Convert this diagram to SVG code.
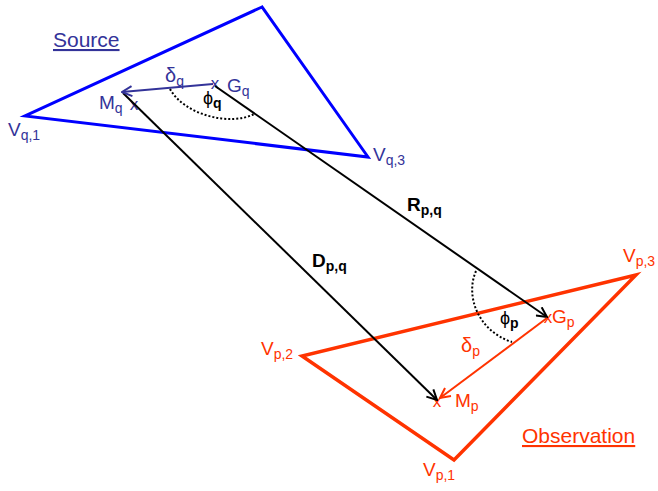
<svg xmlns="http://www.w3.org/2000/svg" width="658" height="491" viewBox="0 0 658 491">
<defs>
<style>
text{font-family:"Liberation Sans",Arial,sans-serif;}
.lb{font-size:19px;}
.sm{font-size:18px;}
.dl{font-size:20px;}
.sub{font-size:14px;}
.blue{fill:#333399;}
.red{fill:#ff3300;}
.blk{fill:#000;}
.tri{fill:none;stroke-linejoin:miter;}
.dot{fill:none;stroke:#000;stroke-width:2;stroke-dasharray:2 2;}
.xm{font-size:17px;text-anchor:middle;}
</style>
<marker id="ab" viewBox="0 0 12 12" refX="11" refY="6" markerWidth="12" markerHeight="12" markerUnits="userSpaceOnUse" orient="auto"><path d="M1,1 L11,6 L1,11" fill="none" stroke="#000" stroke-width="2"/></marker>
<marker id="au" viewBox="0 0 12 12" refX="11" refY="6" markerWidth="12" markerHeight="12" markerUnits="userSpaceOnUse" orient="auto"><path d="M1,1 L11,6 L1,11" fill="none" stroke="#333399" stroke-width="2"/></marker>
<marker id="ar" viewBox="0 0 12 12" refX="11" refY="6" markerWidth="12" markerHeight="12" markerUnits="userSpaceOnUse" orient="auto"><path d="M1,1 L11,6 L1,11" fill="none" stroke="#ff3300" stroke-width="2"/></marker>
</defs>
<rect width="658" height="491" fill="#fff"/>
<g id="source">
<polygon class="tri" points="262,7 25,116 368,157" stroke="#0000ff" stroke-width="3"/>
<text class="blue" x="53" y="47" font-size="21" text-decoration="underline">Source</text>
<text class="blue lb" x="8" y="136">V<tspan class="sub" dy="4">q,1</tspan></text>
<text class="blue lb" x="373" y="161">V<tspan class="sub" dy="4">q,3</tspan></text>
<text class="blue lb" x="227" y="92">G<tspan class="sub" dy="4">q</tspan></text>
<text class="blue lb" x="99" y="109">M<tspan class="sub" dy="4">q</tspan></text>
<text class="blue xm" x="215" y="89">x</text>
<text class="blue xm" x="134" y="110">x</text>
<text class="blue dl" x="165" y="82">δ<tspan class="sub" dy="4">q</tspan></text>
</g>
<g id="observation">
<polygon class="tri" points="636,275 302,356 454,460" stroke="#ff3300" stroke-width="3.5"/>
<text class="red" x="522" y="443" font-size="21" text-decoration="underline">Observation</text>
<text class="red lb" x="261" y="355">V<tspan class="sub" dy="4">p,2</tspan></text>
<text class="red lb" x="623" y="262">V<tspan class="sub" dy="4">p,3</tspan></text>
<text class="red lb" x="423" y="476">V<tspan class="sub" dy="4">p,1</tspan></text>
<text class="red lb" x="552" y="323">G<tspan class="sub" dy="4">p</tspan></text>
<text class="red lb" x="455" y="407">M<tspan class="sub" dy="4">p</tspan></text>
<text class="red xm" x="548" y="323">x</text>
<text class="red xm" x="437" y="407">x</text>
<text class="red dl" x="461" y="352">δ<tspan class="sub" dy="4">p</tspan></text>
</g>
<g id="connectors">
<line x1="215" y1="86" x2="547" y2="317" stroke="#000" stroke-width="2" marker-end="url(#ab)"/>
<line x1="123" y1="93" x2="437" y2="400" stroke="#000" stroke-width="2" marker-end="url(#ab)"/>
<line x1="213" y1="84" x2="122" y2="92" stroke="#333399" stroke-width="2" marker-end="url(#au)"/>
<line x1="547" y1="318" x2="440" y2="398" stroke="#ff3300" stroke-width="2" marker-end="url(#ar)"/>
<path class="dot" d="M170,89 C185,116 232,126 254,114"/>
<path class="dot" d="M476,271 C465,296 478,331 512,342"/>
<text class="blk" x="407" y="211" font-size="19" font-weight="bold">R<tspan class="sub" dy="4">p,q</tspan></text>
<text class="blk" x="312" y="267" font-size="19" font-weight="bold">D<tspan class="sub" dy="4">p,q</tspan></text>
<text class="blk sm" x="203" y="104">ϕ<tspan class="sub" dy="4" font-weight="bold">q</tspan></text>
<text class="blk sm" x="500" y="324">ϕ<tspan class="sub" dy="4" font-weight="bold">p</tspan></text>
</g>
</svg>
